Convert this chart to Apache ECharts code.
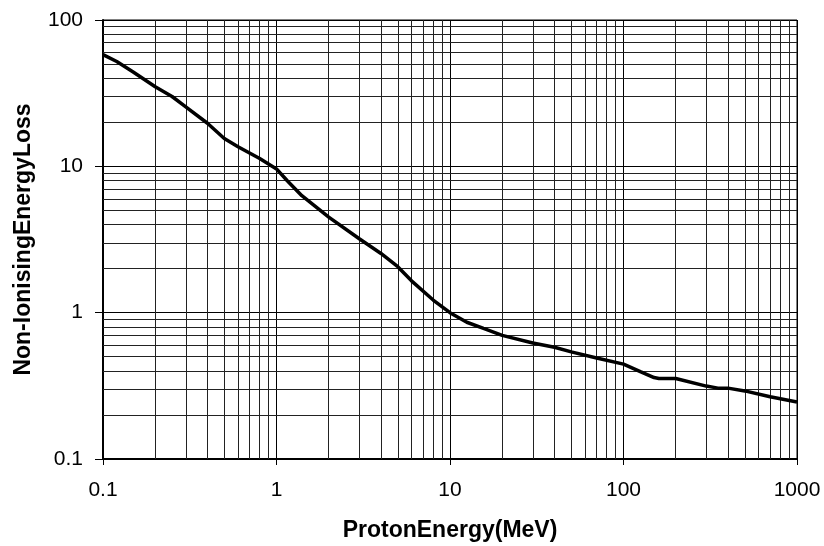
<!DOCTYPE html>
<html>
<head>
<meta charset="utf-8">
<script src="https://cdn.jsdelivr.net/npm/echarts@6/dist/echarts.min.js"></script>
<style>html,body{margin:0;padding:0;background:#fff}#c{width:824px;height:546px}</style>
</head>
<body>
<div id="c"></div>
<script>
const energy = [0.1, 0.12, 0.15, 0.2, 0.25, 0.3, 0.4, 0.5, 0.6, 0.8, 1.0, 1.15, 1.4, 2, 3, 4, 5, 6, 8, 10, 12.5, 15.6, 20, 30, 40, 50, 70, 100, 125, 150, 160, 200, 300, 350, 400, 500, 700, 1000];
const niel   = [58, 52, 44, 35, 30, 25.5, 19.7, 15.5, 13.6, 11.3, 9.6, 8.0, 6.3, 4.5, 3.2, 2.54, 2.06, 1.65, 1.22, 1.0, 0.86, 0.78, 0.70, 0.62, 0.58, 0.54, 0.49, 0.445, 0.395, 0.36, 0.355, 0.355, 0.315, 0.305, 0.305, 0.292, 0.266, 0.245];
const xDecades = [0.1, 1, 10, 100];
const yDecades = [0.1, 1, 10];
const xTitle = 'ProtonEnergy(MeV)';
const yTitle = 'Non-IonisingEnergyLoss';

const minorLines = [];
for (const d of xDecades) for (let m = 2; m <= 9; m++) minorLines.push({ xAxis: +(d * m).toPrecision(6) });
for (const d of yDecades) for (let m = 2; m <= 9; m++) minorLines.push({ yAxis: +(d * m).toPrecision(6) });

const fmt = v => String(+v.toPrecision(6));
const chart = echarts.init(document.getElementById('c'));
chart.setOption({
  animation: false,
  grid: { left: 103, right: 27, top: 20, bottom: 87, containLabel: false, outerBoundsMode: 'none',
          show: true, borderColor: '#000', borderWidth: 1, backgroundColor: 'transparent' },
  xAxis: {
    type: 'log', logBase: 10, min: 0.1, max: 1000,
    name: xTitle, nameLocation: 'middle', nameGap: 60, nameMoveOverlap: false,
    nameTextStyle: { fontFamily: 'Liberation Sans, Arial', fontWeight: 'bold', fontSize: 23, color: '#000' },
    axisLine: { show: true, lineStyle: { color: '#000', width: 2 } },
    axisTick: { show: true, inside: false, length: 6, lineStyle: { color: '#000', width: 1 } },
    axisLabel: { fontFamily: 'Liberation Sans, Arial', fontSize: 21, color: '#000', margin: 21, formatter: fmt },
    splitLine: { show: true, lineStyle: { color: '#000', width: 1 } },
    minorTick: { show: false }, minorSplitLine: { show: false }
  },
  yAxis: {
    type: 'log', logBase: 10, min: 0.1, max: 100,
    name: yTitle, nameLocation: 'middle', nameGap: 68, nameRotate: 90, nameMoveOverlap: false,
    nameTextStyle: { fontFamily: 'Liberation Sans, Arial', fontWeight: 'bold', fontSize: 23, color: '#000' },
    axisLine: { show: true, lineStyle: { color: '#000', width: 2 } },
    axisTick: { show: true, inside: false, length: 8, lineStyle: { color: '#000', width: 1 } },
    axisLabel: { fontFamily: 'Liberation Sans, Arial', fontSize: 21, color: '#000', margin: 20, formatter: fmt },
    splitLine: { show: true, lineStyle: { color: '#000', width: 1 } },
    minorTick: { show: false }, minorSplitLine: { show: false }
  },
  series: [
    {
      type: 'line', data: [], z: 1, silent: true,
      markLine: { silent: true, symbol: 'none', label: { show: false }, animation: false,
        lineStyle: { color: '#222', width: 1, type: 'solid' }, emphasis: { disabled: true }, data: minorLines }
    },
    {
      type: 'line', z: 5, showSymbol: false, symbol: 'none', smooth: false,
      lineStyle: { color: '#000', width: 3.5 },
      data: energy.map((e, i) => [e, niel[i]])
    }
  ]
});
</script>
</body>
</html>
